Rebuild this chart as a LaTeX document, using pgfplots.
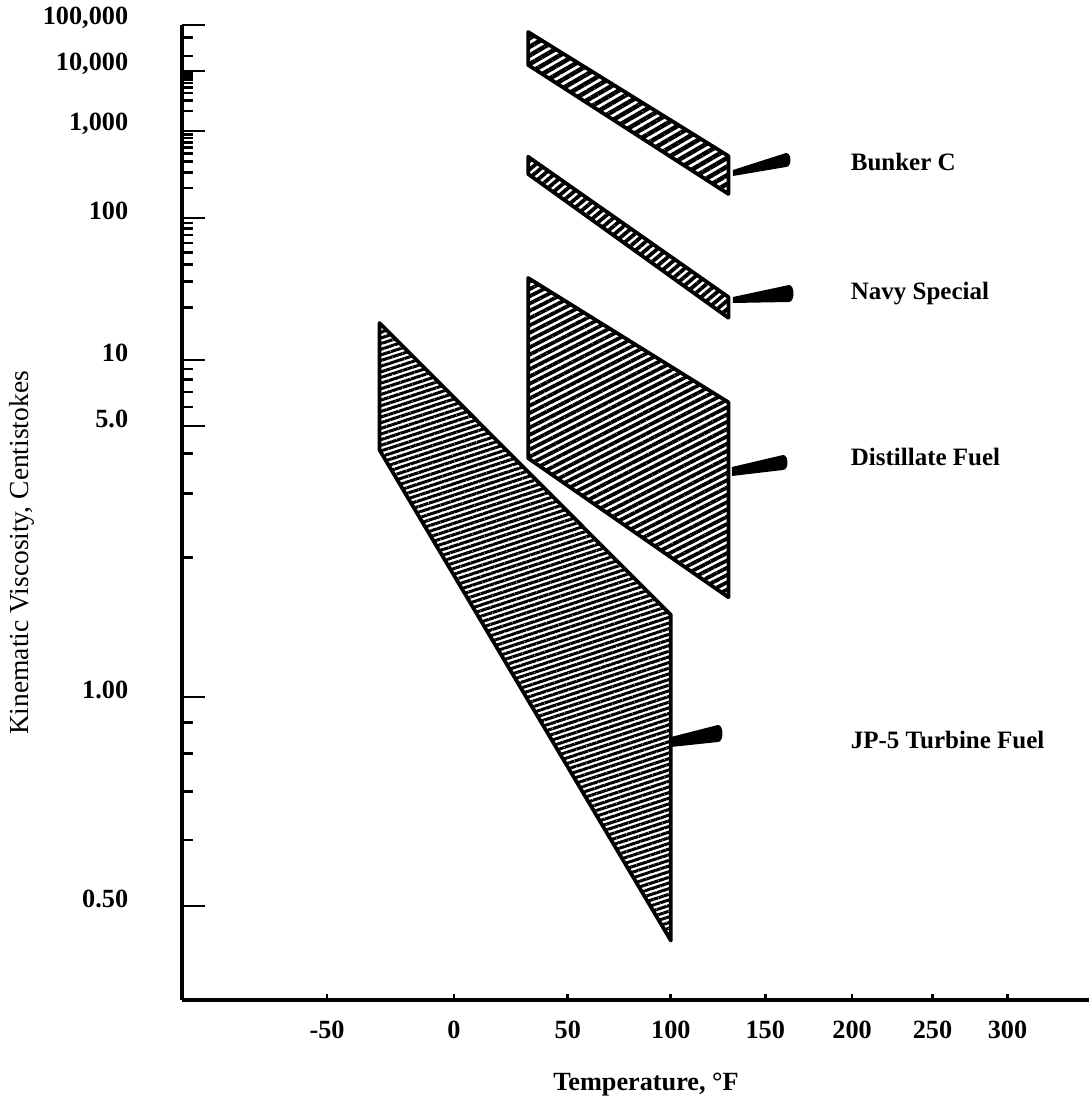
\documentclass[border=0pt]{standalone}
\usepackage{fontspec}
\setmainfont{Liberation Serif}
\usepackage{pgfplots}
\pgfplotsset{compat=1.18}
\usetikzlibrary{patterns.meta}

% temperature axis: log of absolute temperature (ASTM style)
\pgfplotsset{
  x coord trafo/.code={%
    \begingroup
    \pgfkeys{/pgf/fpu=true,/pgf/fpu/output format=fixed}%
    \pgfmathparse{1000*log10(#1+459.67)}%
    \pgfmathsmuggle\pgfmathresult
    \endgroup},
  % viscosity axis: log-log scale, fitted to the printed tick positions
  y coord trafo/.code={%
    \begingroup
    \pgfkeys{/pgf/fpu=true,/pgf/fpu/output format=fixed}%
    \pgfmathparse{log10(log10(#1+0.77))}%
    \let\vu\pgfmathresult
    \pgfmathparse{-906+552.6*(\vu+0.98379)+3.8*max(\vu+0.6056,0)-57.5*max(\vu+0.11851,0)-5.8*max(\vu-0.01377,0)+2.8*max(\vu-0.30175,0)-15.5*max(\vu-0.47717,0)-5.7*max(\vu-0.60206,0)}%
    \pgfmathsmuggle\pgfmathresult
    \endgroup},
}

\begin{document}
\begin{tikzpicture}
\useasboundingbox (-72.8pt,-42.4pt) rectangle (362.8pt,400pt);
\begin{axis}[
    at={(0pt,0pt)}, anchor=south west,
    scale only axis, width=362.8pt, height=390pt,
    xmin=-100.5, xmax=358.2, ymin=0.4054, ymax=100000,
    axis x line=bottom, axis y line=left,
    axis line style={-, line width=1.6pt},
    tick align=inside,
    tick style={black, line width=1.1pt},
    major tick length=9pt, minor tick length=4.5pt,
    xtick=\empty,
    extra x ticks={-50,0,50,100,150,200,250,300},
    extra x tick labels={-50,0,50,100,150,200,250,300},
    extra x tick style={major tick length=2.5pt},
    ytick={0.5,1,5,10,100,1000,10000,100000},
    yticklabels={0.50,1.00,5.0,10,100,{1,000},{10,000},{100,000}},
    minor ytick={0.6,0.7,0.8,0.9,2,3,4,6,7,8,9,20,30,40,50,60,70,80,90,
      200,300,400,500,600,700,800,900,2000,3000,4000,5000,6000,7000,8000,9000,20000,50000},
    tick label style={font=\fontsize{10.5}{12}\selectfont\bfseries},
    xticklabel style={yshift=-5pt},
    yticklabel style={xshift=-18pt, yshift=3pt},
    xlabel={Temperature, °F},
    ylabel={Kinematic Viscosity, Centistokes},
    every axis x label/.style={at={(rel axis cs:0.5116,0)}, yshift=-34pt, anchor=center,
      font=\fontsize{10.5}{12}\selectfont\bfseries},
    every axis y label/.style={at={(rel axis cs:0,0.4585)}, xshift=-64pt, rotate=90, anchor=center,
      font=\fontsize{11}{13}\selectfont},
    clip=false,
  ]

  % Bunker C
  \addplot[draw=black, line width=1.5pt, line join=round,
    pattern={Lines[angle=30,distance=3pt,line width=1.8pt]}]
    coordinates {(32,68100) (130,469) (130,173) (32,13170)} -- cycle;

  % Navy Special
  \addplot[draw=black, line width=1.5pt, line join=round,
    pattern={Lines[angle=40,distance=2.6pt,line width=1.5pt]}]
    coordinates {(32,459) (130,23.5) (130,17.3) (32,286)} -- cycle;

  % Distillate Fuel
  \addplot[draw=black, line width=1.5pt, line join=round,
    pattern={Lines[angle=27,distance=2.6pt,line width=1.5pt]}]
    coordinates {(32,31.9) (130,6.3) (130,1.6) (32,3.87)} -- cycle;

  % JP-5 Turbine Fuel
  \addplot[draw=black, line width=1.5pt, line join=round,
    pattern={Lines[angle=18,distance=2.15pt,line width=1.2pt]}]
    coordinates {(-30,16.1) (100,1.46) (100,0.46) (-30,4.12)} -- cycle;

  \begin{scope}[font=\fontsize{10}{12}\selectfont\bfseries]
    \node[anchor=west] at (rel axis cs:0.7277,0.8595) {Bunker C};
    \node[anchor=west] at (rel axis cs:0.7277,0.7251) {Navy Special};
    \node[anchor=west] at (rel axis cs:0.7277,0.5569) {Distillate Fuel};
    \node[anchor=west] at (rel axis cs:0.7277,0.2667) {JP-5 Turbine Fuel};
  \end{scope}
\end{axis}

% leader wedges, in picture pixels
\begin{scope}[shift={(-72.8pt,400pt)}, x=0.4pt, y=-0.4pt]
  \fill (733,170) -- (786,153) .. controls (792,153) and (792,167) .. (786,167) -- (733,176) -- cycle;
  \fill (733,297) -- (789,285) .. controls (795,285) and (795,302) .. (789,302) -- (733,303) -- cycle;
  \fill (732,467) -- (783,455) .. controls (789,455) and (789,470) .. (783,470) -- (732,476) -- cycle;
  \fill (671,737) -- (718,725) .. controls (724,725) and (724,742) .. (718,742) -- (671,747) -- cycle;
\end{scope}
\end{tikzpicture}
\end{document}
